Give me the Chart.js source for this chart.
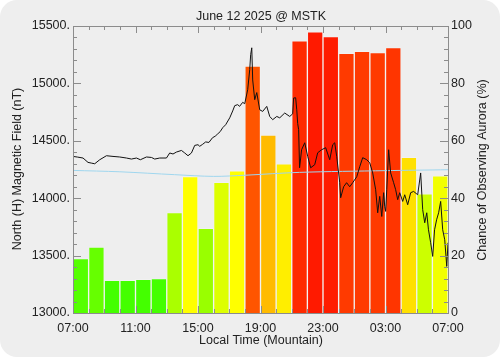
<!DOCTYPE html>
<html>
<head>
<meta charset="utf-8">
<script src="https://cdn.jsdelivr.net/npm/chart.js@4/dist/chart.umd.min.js"></script>
<style>
  html, body { margin: 0; padding: 0; background: #ffffff; }
  #wrap { position: relative; width: 500px; height: 357px; background: #eeeeee; border-radius: 17px; overflow: hidden; }
  canvas { display: block; }
</style>
</head>
<body>
<div id="wrap"><canvas id="c" width="500" height="357"></canvas></div>
<script>
// ---- data ----
const chartTitle = 'June 12 2025 @ MSTK';
const xTitle = 'Local Time (Mountain)';
const leftTitle = 'North (H) Magnetic Field (nT)';
const rightTitle = 'Chance of Observing Aurora (%)';

// hour offsets from 07:00 local; axis runs 0..24 h
const hourTickLabels = ['07:00', '11:00', '15:00', '19:00', '23:00', '03:00', '07:00'];

// hourly aurora chance (%) bars, 07:00 .. 06:00
const auroraChance = [19, 23, 11.4, 11.4, 11.7, 12, 35, 47.5, 29.5, 45.5, 49.5, 86,
                      62, 52, 94.8, 98, 96.3, 90.5, 91.2, 90.7, 92.5, 54.2, 41.5, 47.8];
const auroraColors = ['#55ff00', '#66ff00', '#44ff00', '#44ff00', '#44ff00', '#44ff00',
                      '#aaff00', '#ffff00', '#99ff00', '#ddff00', '#ffff00', '#ff5500',
                      '#ffbb00', '#ffee00', '#ff2a00', '#ff1a00', '#ff1c00', '#ff3a00',
                      '#ff3a00', '#ff3a00', '#ff3500', '#ffe000', '#ccff00', '#f2ff00'];

// magnetic field trace (nT) at hours after 07:00
const fieldHours = [0.00, 0.30, 0.64, 0.96, 1.20, 1.39, 1.71, 2.14, 2.56, 2.99, 3.42, 3.74, 4.06,
  4.31, 4.70, 5.02, 5.23, 5.55, 5.98, 6.19, 6.40, 6.62, 6.94, 7.15, 7.36, 7.58, 7.79, 8.00,
  8.11, 8.30, 8.49, 8.70, 8.93, 9.10, 9.26, 9.42, 9.58,
  9.77, 10.03, 10.22, 10.35, 10.54, 10.66, 10.86, 10.99, 11.18, 11.31, 11.37, 11.44, 11.50,
  11.63, 11.76, 11.95, 12.14, 12.40, 12.59, 12.78, 13.04, 13.23, 13.55, 13.87, 14.06, 14.12,
  14.25, 14.32, 14.38, 14.44, 14.50, 14.63, 14.83, 15.02, 15.21, 15.47, 15.66, 15.91, 16.17,
  16.43, 16.62, 16.75, 16.88, 17.07, 17.13, 17.32, 17.51, 17.71, 17.90, 18.16, 18.35, 18.54,
  18.80, 18.99, 19.18, 19.37, 19.50, 19.63, 19.76, 19.88, 19.95, 20.01, 20.08, 20.20, 20.33,
  20.52, 20.65, 20.78, 20.91, 21.10, 21.23, 21.42, 21.61, 21.80, 22.06, 22.25, 22.38, 22.51,
  22.64, 22.75, 22.89, 23.02, 23.14, 23.27, 23.40, 23.53, 23.66, 23.79, 23.92, 24.00];
const fieldValues = [14364, 14358, 14350, 14312, 14305, 14300, 14335, 14370, 14364, 14359, 14350,
  14341, 14350, 14335, 14359, 14355, 14341, 14350, 14350, 14394, 14385, 14402, 14416, 14394,
  14370, 14394, 14460, 14466,
  14452, 14470, 14490, 14486, 14527, 14540, 14560, 14580, 14614,
  14640, 14700, 14760, 14806, 14815, 14800, 14835, 14823, 14945,
  15120, 15250, 15310, 15030, 14858, 14920, 14770, 14756, 14800, 14712, 14684, 14712, 14700,
  14742, 14712, 14735, 14873, 14875, 14770, 14650, 14597, 14265, 14422, 14483, 14365, 14265,
  14292, 14396, 14422, 14440, 14335, 14466, 14483, 14361, 14135, 14004, 14100, 14135, 14100,
  14135, 14187, 14274, 14353, 14335, 14309, 14220, 14074, 13873, 14016, 13841, 14048, 13929,
  13885, 14074, 14422, 14220, 14135, 14074, 13987, 14048, 13972, 14030, 13943, 14048, 14059,
  14030, 14220, 13900, 13786, 13873, 13725, 13612, 13493, 13725, 13812, 13873, 13972, 13725,
  13638, 13406, 13612];

// quiet-day baseline (nT)
const baselineHours = [0, 3, 6.5, 9, 11, 14.5, 20, 24];
const baselineValues = [14242, 14230, 14205, 14190, 14200, 14225, 14240, 14248];

// axis ranges
const leftMin = 13000, leftMax = 15500, leftStep = 500, leftMinor = 100;
const rightMin = 0, rightMax = 100, rightStep = 20, rightMinor = 4;

// ---- chart ----
const FONT = "'Liberation Sans', Arial, sans-serif";
Chart.defaults.font.family = FONT;
Chart.defaults.font.size = 12.5;
Chart.defaults.color = '#222222';

const frameColor = '#8c8c8c';

const decorPlugin = {
  id: 'decor',
  afterDatasetsDraw(chart) {
    const ctx = chart.ctx;
    const a = chart.chartArea;
    const sx = chart.scales.x, sl = chart.scales.yL, sr = chart.scales.yR;
    ctx.save();
    ctx.strokeStyle = frameColor;
    ctx.lineWidth = 1;
    ctx.beginPath();
    for (let v = leftMin; v <= leftMax; v += leftMinor) {
      const y = Math.round(sl.getPixelForValue(v)) + 0.5;
      const len = (v % leftStep === 0) ? 8 : 4;
      ctx.moveTo(a.left, y); ctx.lineTo(a.left + len, y);
    }
    for (let v = rightMin; v <= rightMax; v += rightMinor) {
      const y = Math.round(sr.getPixelForValue(v)) + 0.5;
      const len = (v % rightStep === 0) ? 8 : 4;
      ctx.moveTo(a.right, y); ctx.lineTo(a.right - len, y);
    }
    for (let h = 0; h <= 24; h++) {
      const x = Math.round(sx.getPixelForValue(h)) + 0.5;
      const len = (h % 4 === 0) ? 7 : 4;
      ctx.moveTo(x, a.top); ctx.lineTo(x, a.top + len);
      ctx.moveTo(x, a.bottom); ctx.lineTo(x, a.bottom - len);
    }
    ctx.stroke();
    ctx.strokeRect(Math.round(a.left) + 0.5, Math.round(a.top) + 0.5,
                   Math.round(a.right - a.left), Math.round(a.bottom - a.top));
    ctx.restore();
  },
  afterDraw(chart) {
    const ctx = chart.ctx;
    const a = chart.chartArea;
    ctx.save();
    ctx.fillStyle = '#222222';
    ctx.font = '12.5px ' + FONT;
    ctx.textAlign = 'center';
    ctx.textBaseline = 'middle';
    ctx.fillText(chartTitle, (a.left + a.right) / 2 + 0.5, 17);
    ctx.fillText(xTitle, (a.left + a.right) / 2 + 0.5, 341);
    ctx.translate(18, 169);
    ctx.rotate(-Math.PI / 2);
    ctx.fillText(leftTitle, 0, 0);
    ctx.restore();
    ctx.save();
    ctx.fillStyle = '#222222';
    ctx.font = '12.5px ' + FONT;
    ctx.textAlign = 'center';
    ctx.textBaseline = 'middle';
    ctx.translate(483, 170);
    ctx.rotate(-Math.PI / 2);
    ctx.fillText(rightTitle, 0, 0);
    ctx.restore();
  }
};

const barData = auroraChance.map((v, i) => ({ x: i + 0.5, y: v }));
const fieldData = fieldHours.map((h, i) => ({ x: h, y: fieldValues[i] }));
const baseData = baselineHours.map((h, i) => ({ x: h, y: baselineValues[i] }));

new Chart(document.getElementById('c'), {
  type: 'bar',
  data: {
    datasets: [
      {
        type: 'line', label: 'H field', data: fieldData, xAxisID: 'x', yAxisID: 'yL',
        borderColor: '#111111', borderWidth: 1, pointRadius: 0, tension: 0, order: 1
      },
      {
        type: 'line', label: 'Baseline', data: baseData, xAxisID: 'x', yAxisID: 'yL',
        borderColor: '#9fd6ee', borderWidth: 1, pointRadius: 0, tension: 0.3, order: 2
      },
      {
        type: 'bar', label: 'Aurora chance', data: barData, xAxisID: 'x', yAxisID: 'yR',
        backgroundColor: auroraColors, borderColor: 'rgba(255,255,255,0.18)', borderWidth: 1,
        barPercentage: 1, categoryPercentage: 1, order: 3
      }
    ]
  },
  options: {
    responsive: false,
    animation: false,
    events: [],
    layout: { padding: { top: 26, left: 0, right: 0, bottom: 0 } },
    plugins: { legend: { display: false }, tooltip: { enabled: false }, title: { display: false } },
    scales: {
      x: {
        type: 'linear', min: 0, max: 24, offset: false, position: 'bottom',
        grid: { display: false, drawTicks: false },
        border: { display: false },
        ticks: {
          stepSize: 4, padding: 8, maxRotation: 0, autoSkip: false,
          callback: (v) => hourTickLabels[v / 4]
        },
        afterFit: (s) => { s.height = 44; }
      },
      yL: {
        type: 'linear', position: 'left', min: leftMin, max: leftMax,
        grid: { display: false, drawTicks: false },
        border: { display: false },
        ticks: { stepSize: leftStep, padding: 3, callback: (v) => v + '.' },
        afterFit: (s) => { s.width = 73; }
      },
      yR: {
        type: 'linear', position: 'right', min: rightMin, max: rightMax,
        grid: { display: false, drawTicks: false },
        border: { display: false },
        ticks: { stepSize: rightStep, padding: 3 },
        afterFit: (s) => { s.width = 52; }
      }
    }
  },
  plugins: [decorPlugin]
});
</script>
</body>
</html>
